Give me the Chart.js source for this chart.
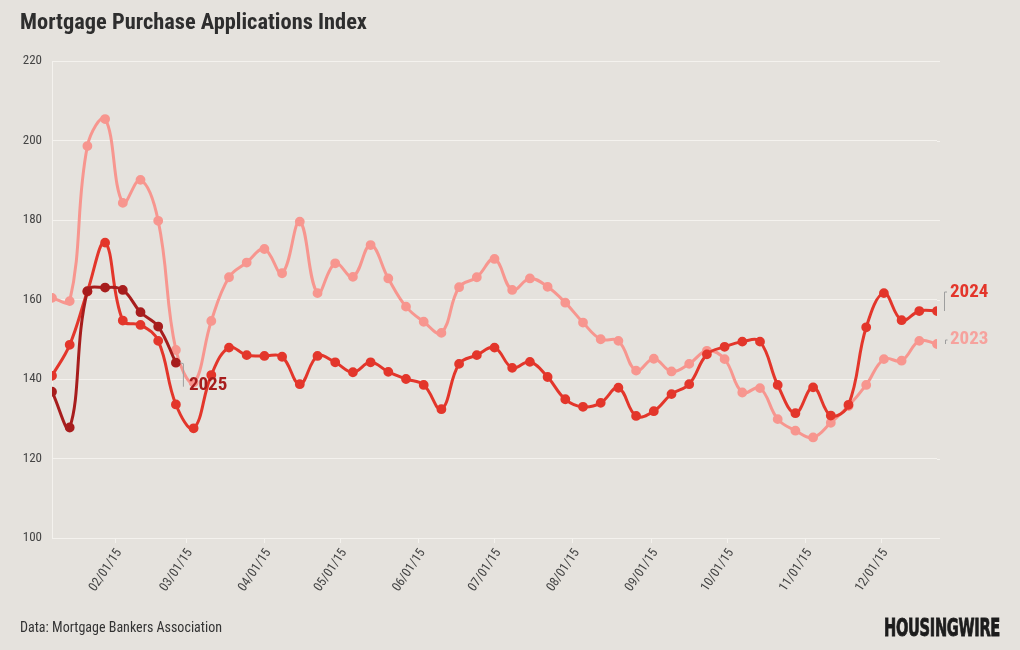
<!DOCTYPE html>
<html>
<head>
<meta charset="utf-8">
<script src="https://cdn.jsdelivr.net/npm/chart.js@4.4.1/dist/chart.umd.min.js"></script>
<style>
  html, body { margin: 0; padding: 0; background: #e5e2dd; }
  #wrap { position: relative; width: 1020px; height: 650px; overflow: hidden; background: #e5e2dd; }
  canvas { position: absolute; left: 0; top: 0; }
  .cond { font-family: 'Roboto Condensed', 'Liberation Sans Narrow', 'DejaVu Sans Condensed', sans-serif; }
  #title { position: absolute; left: 20px; top: 9px; font-size: 22px; font-weight: bold; color: #2e2e2e; white-space: nowrap; transform-origin: left top; }
  #source { position: absolute; left: 20px; top: 619px; font-size: 14px; color: #333; white-space: nowrap; transform-origin: left top; }
  #logo { position: absolute; left: 884px; top: 614px; font-family: 'DejaVu Sans', sans-serif; font-size: 24px; font-weight: 900; color: #1c1c1c; white-space: nowrap; letter-spacing: -0.5px; transform-origin: left top; -webkit-text-stroke: 0.9px #1c1c1c; }
</style>
</head>
<body>
<div id="wrap">
  <canvas id="c" width="1020" height="650"></canvas>
  <div id="title" class="cond">Mortgage Purchase Applications Index</div>
  <div id="source" class="cond">Data: Mortgage Bankers Association</div>
  <div id="logo">HOUSINGWIRE</div>
</div>
<script>
// ---- data ----
const weekDates = ["01/07/15","01/14/15","01/21/15","01/28/15","02/04/15","02/11/15","02/18/15","02/25/15",
  "03/04/15","03/11/15","03/18/15","03/25/15","04/01/15","04/08/15","04/15/15","04/22/15","04/29/15",
  "05/06/15","05/13/15","05/20/15","05/27/15","06/03/15","06/10/15","06/17/15","06/24/15",
  "07/01/15","07/08/15","07/15/15","07/22/15","07/29/15","08/05/15","08/12/15","08/19/15","08/26/15",
  "09/02/15","09/09/15","09/16/15","09/23/15","09/30/15","10/07/15","10/14/15","10/21/15","10/28/15",
  "11/04/15","11/11/15","11/18/15","11/25/15","12/02/15","12/09/15","12/16/15","12/23/15"];
const tickLabels = ["02/01/15","03/01/15","04/01/15","05/01/15","06/01/15","07/01/15","08/01/15","09/01/15","10/01/15","11/01/15","12/01/15"];
const series2023 = [160.4,159.6,198.6,205.4,184.3,190.1,179.8,147.3,139.1,154.6,165.6,169.3,172.7,166.6,179.6,161.6,169.1,165.7,173.7,165.3,158.2,154.4,151.6,163.1,165.6,170.2,162.4,165.3,163.2,159.2,154.2,150.0,149.6,142.1,145.1,141.9,143.8,147.1,145.0,136.6,137.7,129.9,127.0,125.3,129.0,133.2,138.5,145.0,144.6,149.6,148.8];
const series2024 = [140.8,148.6,162.0,174.3,154.7,153.6,149.6,133.6,127.6,141.0,147.9,146.0,145.8,145.6,138.7,145.8,144.2,141.7,144.2,141.8,140.0,138.5,132.4,143.8,146.0,147.9,142.8,144.3,140.5,134.9,133.0,134.0,137.8,130.7,131.9,136.2,138.7,146.2,148.1,149.4,149.4,138.5,131.4,137.9,130.8,133.5,153.0,161.6,154.8,157.1,157.1];
const series2025 = [136.8,127.8,162.1,163.0,162.4,156.8,153.2,144.1];
const yTicks = [100,120,140,160,180,200,220];

// ---- helpers ----
const monthStart = [0,31,59,90,120,151,181,212,243,273,304,334];
function dayOfYear(s){ const p = s.split('/'); return monthStart[+p[0]-1] + (+p[1]) - 1; }
const xs = weekDates.map(dayOfYear);
const tickDays = tickLabels.map(dayOfYear);
const toPts = arr => arr.map((v,i)=>({x: xs[i], y: v}));

const COND = "'Roboto Condensed', 'Liberation Sans Narrow', 'DejaVu Sans Condensed', sans-serif";
const C2023 = '#f7968f', C2024 = '#e3362b', C2025 = '#a71d1d';

const labelPlugin = {
  id: 'seriesLabels',
  afterDatasetsDraw(chart){
    const ctx = chart.ctx;
    const xS = chart.scales.x, yS = chart.scales.y;
    ctx.save();
    ctx.font = 'bold 19px ' + COND;
    ctx.textBaseline = 'middle';
    ctx.strokeStyle = '#9e9e9e';
    ctx.lineWidth = 1;
    function lastPt(arr){ const i = arr.length-1; return [xS.getPixelForValue(xs[i]), yS.getPixelForValue(arr[i])]; }
    // 2024
    let [px,py] = lastPt(series2024);
    ctx.beginPath(); ctx.moveTo(px+7.5, py); ctx.lineTo(px+7.5, py-19); ctx.lineTo(px+10, py-19); ctx.stroke();
    ctx.fillStyle = C2024; ctx.fillText('2024', px+13, py-19);
    // 2023
    [px,py] = lastPt(series2023);
    ctx.beginPath(); ctx.moveTo(px+8.5, py); ctx.lineTo(px+8.5, py-4); ctx.lineTo(px+10.5, py-4); ctx.stroke();
    ctx.fillStyle = '#f6a29d'; ctx.fillText('2023', px+13, py-5);
    // 2025
    [px,py] = lastPt(series2025);
    ctx.beginPath(); ctx.moveTo(px+4, py); ctx.lineTo(px+7.5, py+1); ctx.lineTo(px+7.5, py+24); ctx.stroke();
    ctx.fillStyle = C2025; ctx.fillText('2025', px+13, py+23);
    ctx.restore();
  }
};

// extend horizontal gridlines slightly past the last point, as in the reference
const gridExtend = {
  id: 'gridExtend',
  beforeDatasetsDraw(chart){
    const ctx = chart.ctx, yS = chart.scales.y, a = chart.chartArea;
    ctx.save(); ctx.strokeStyle = '#f4f2ee'; ctx.lineWidth = 1;
    yTicks.forEach(v => { const y = Math.round(yS.getPixelForValue(v)) + 0.5; ctx.beginPath(); ctx.moveTo(a.right, y); ctx.lineTo(a.right + 3, y); ctx.stroke(); });
    ctx.restore();
  }
};

const ds = (label, arr, color, order) => ({
  label, data: toPts(arr), borderColor: color, backgroundColor: color,
  pointBackgroundColor: color, pointBorderColor: color,
  borderWidth: 3, pointRadius: 3.4, pointHoverRadius: 3.4, tension: 0.4, order
});

new Chart(document.getElementById('c'), {
  type: 'line',
  data: { datasets: [ ds('2025', series2025, C2025, 1), ds('2024', series2024, C2024, 2), ds('2023', series2023, C2023, 3) ] },
  options: {
    responsive: false, animation: false,
    layout: { padding: { top: 61, right: 83, left: 0, bottom: 0 } },
    plugins: { legend: { display: false }, tooltip: { enabled: false }, title: { display: false } },
    scales: {
      x: {
        type: 'linear', min: xs[0], max: xs[xs.length-1],
        afterBuildTicks: s => { s.ticks = tickDays.map(v => ({ value: v })); },
        afterFit: s => { s.height = 112; },
        ticks: {
          callback: (v) => { const i = tickDays.indexOf(v); return i >= 0 ? tickLabels[i] : ''; },
          autoSkip: false, minRotation: 56, maxRotation: 56, padding: 3, labelOffset: 4,
          color: '#444', font: { family: COND, size: 13 }
        },
        grid: { drawOnChartArea: false, drawTicks: true, tickLength: 5, color: '#f4f2ee' },
        border: { display: false }
      },
      y: {
        min: 100, max: 220,
        afterBuildTicks: s => { s.ticks = yTicks.map(v => ({ value: v })); },
        afterFit: s => { s.width = 52; },
        ticks: { padding: 10, color: '#444', font: { family: COND, size: 13 } },
        grid: { color: '#f4f2ee', lineWidth: 1, drawTicks: false },
        border: { display: true, color: '#f4f2ee' }
      }
    }
  },
  plugins: [gridExtend, labelPlugin]
});

// fit header/footer text widths to the reference
function fitWidth(id, w){ const el = document.getElementById(id); const r = el.getBoundingClientRect().width; el.style.transform = 'scaleX(' + (w / r) + ')'; }
fitWidth('title', 347);
fitWidth('source', 202);
fitWidth('logo', 116);
</script>
</body>
</html>
